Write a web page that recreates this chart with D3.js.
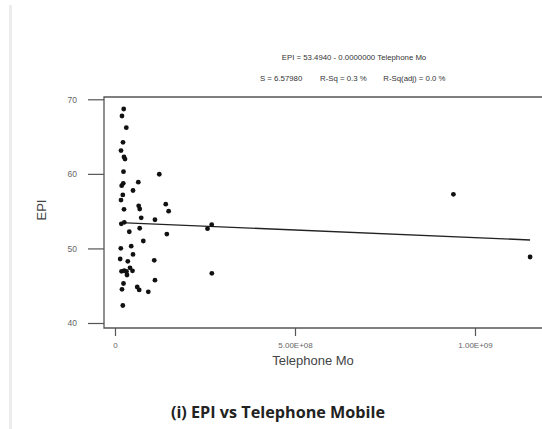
<!DOCTYPE html>
<html><head><meta charset="utf-8">
<script src="https://cdn.jsdelivr.net/npm/d3@7"></script>
<style>body{margin:0;background:#fff}svg{display:block}</style>
</head><body>
<script>
// Data: Telephone Mobile (millions of subscriptions) vs EPI
const telMobileM = [24.2,19.4,31.4,22.2,16.7,25,27.8,23.6,123,23,18.6,64.7,50,21.7,16.7,65.8,68.6,25,141,149,72.8,111,17.5,25.8,68.6,39.7,144,78.6,45,16.1,50,14.4,35.6,109,41.7,18.1,25.6,31.9,48.6,33.3,23.6,111,19.4,61.7,67.2,92.5,21.7,268.6,257,269,940,1153];
const epi = [68.70,67.76,66.19,64.23,63.13,62.26,61.99,60.29,59.95,58.73,58.41,58.88,57.77,57.17,56.49,55.72,55.29,55.25,55.93,54.99,54.11,53.85,53.30,53.50,52.71,52.24,51.93,51.00,50.30,50.02,49.19,48.58,48.27,48.41,47.40,46.93,47.01,46.91,47.00,46.44,45.30,45.74,44.52,44.83,44.43,44.18,42.35,53.18,52.65,46.66,57.26,48.85];
const yTicks = [40,50,60,70];
const xTicks = [0,5e8,1e9];
const xTickLabels = ["0","5.00E+08","1.00E+09"];
const fitIntercept = 53.4940;
const fitSlopePerUnit = -2.05e-9;
const titleLine1 = "EPI = 53.4940 - 0.0000000 Telephone Mo";
const statsLine = ["S = 6.57980","R-Sq = 0.3 %","R-Sq(adj) = 0.0 %"];
const xTitle = "Telephone Mo", yTitle = "EPI";
const caption = "(i) EPI vs Telephone Mobile";

const W=542,H=429;
const svg=d3.select("body").append("svg").attr("width",W).attr("height",H);
svg.append("rect").attr("width",W).attr("height",H).attr("fill","#fff");
svg.append("rect").attr("x",9).attr("y",5).attr("width",3).attr("height",H-5).attr("fill","#ececec");

const x=d3.scaleLinear().domain([0,1e9]).range([115,475]);
const y=d3.scaleLinear().domain([40,70]).range([323,99.3]);
const frameL=104, frameT=97, frameB=328;
const axisCol="#555";
const sans="Liberation Sans, Arial, sans-serif";

// frame
svg.append("path").attr("d",`M${W+5},${frameT}H${frameL}V${frameB}H${W+5}`)
  .attr("fill","none").attr("stroke",axisCol).attr("stroke-width",1.3);

// y axis ticks
const yAxis=d3.axisLeft(y).tickValues(yTicks).tickSize(16).tickPadding(11).tickFormat(d3.format("d"));
const gy=svg.append("g").attr("transform",`translate(${frameL},0)`).call(yAxis);
gy.select(".domain").remove();
gy.selectAll("line").attr("stroke",axisCol).attr("stroke-width",1.2);
gy.selectAll("text").attr("fill","#666").attr("font-family",sans).attr("font-size",8.5);

// x axis ticks
const xAxis=d3.axisBottom(x).tickValues(xTicks).tickSize(8).tickPadding(6).tickFormat((d,i)=>xTickLabels[i]);
const gx=svg.append("g").attr("transform",`translate(0,${frameB})`).call(xAxis);
gx.select(".domain").remove();
gx.selectAll("line").attr("stroke",axisCol).attr("stroke-width",1.2);
gx.selectAll("text").attr("fill","#666").attr("font-family",sans).attr("font-size",8);

// titles
svg.append("text").attr("x",354).attr("y",60).attr("text-anchor","middle")
  .attr("font-family",sans).attr("font-size",7.8).attr("fill","#333").text(titleLine1);
const statX=[260,320,383.3];
statsLine.forEach((s,i)=>svg.append("text").attr("x",statX[i]).attr("y",81)
  .attr("font-family",sans).attr("font-size",7.8).attr("fill","#333").text(s));

svg.append("text").attr("x",313).attr("y",365).attr("text-anchor","middle")
  .attr("font-family",sans).attr("font-size",13).attr("fill","#444").text(xTitle);
svg.append("text").attr("transform","translate(46,210) rotate(-90)").attr("text-anchor","middle")
  .attr("font-family",sans).attr("font-size",13).attr("fill","#444").text(yTitle);

svg.append("text").attr("x",278).attr("y",418).attr("text-anchor","middle")
  .attr("font-family","Open Sans, sans-serif").attr("font-weight","bold").attr("font-size",16.2).attr("fill","#222").text(caption);

// regression line
const xs=telMobileM.map(v=>v*1e6);
const xmin=d3.min(xs), xmax=d3.max(xs);
svg.append("line").attr("x1",x(xmin)).attr("y1",y(fitIntercept+fitSlopePerUnit*xmin))
  .attr("x2",x(xmax)).attr("y2",y(fitIntercept+fitSlopePerUnit*xmax))
  .attr("stroke","#222").attr("stroke-width",1.4);

// points
svg.append("g").selectAll("circle").data(xs).join("circle")
  .attr("cx",d=>x(d)).attr("cy",(d,i)=>y(epi[i])).attr("r",2.4).attr("fill","#111");
</script>
</body></html>
